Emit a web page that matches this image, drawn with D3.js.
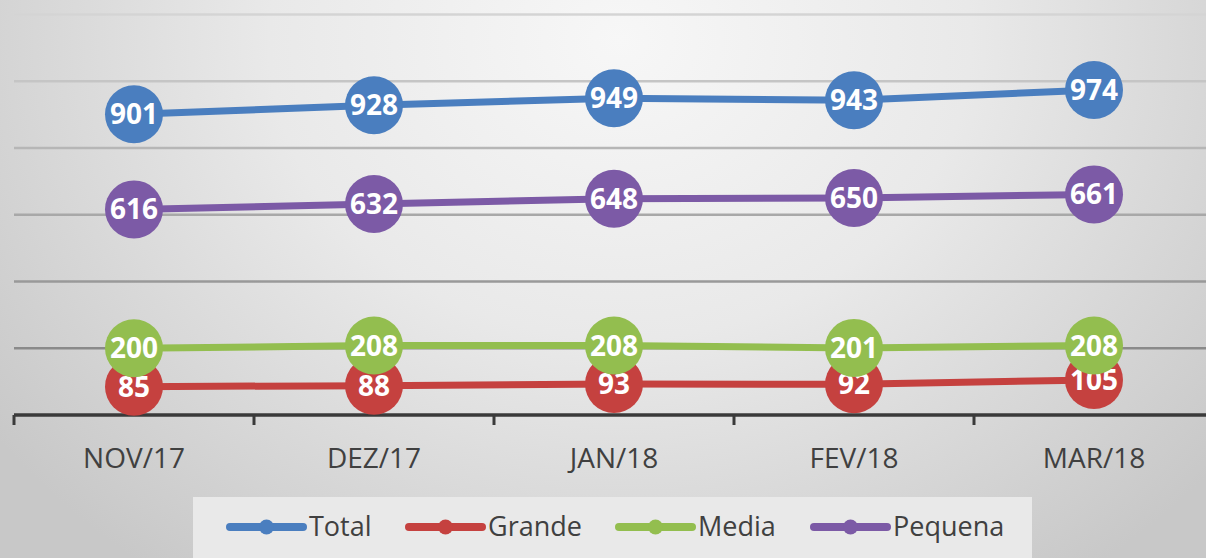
<!DOCTYPE html>
<html><head><meta charset="utf-8">
<script src="https://cdn.jsdelivr.net/npm/d3@7"></script>
<style>html,body{margin:0;padding:0;overflow:hidden;background:#e0e0e0}</style>
</head><body>
<svg id="c" width="1206" height="558"></svg>
<script>
const categories = ["NOV/17","DEZ/17","JAN/18","FEV/18","MAR/18"];
const seriesNames = ["Total","Grande","Media","Pequena"];
const total   = [901, 928, 949, 943, 974];
const grande  = [85, 88, 93, 92, 105];
const media   = [200, 208, 208, 201, 208];
const pequena = [616, 632, 648, 650, 661];
const yTicks  = [0, 200, 400, 600, 800, 1000, 1200];
const colors  = {Total:"#4a7ebf", Grande:"#c5413f", Media:"#93be4f", Pequena:"#7c5aa6"};

const series = [
  {name:"Total", values: total},
  {name:"Pequena", values: pequena},
  {name:"Grande", values: grande},
  {name:"Media", values: media}
];

const svg = d3.select("#c");
const W = 1206, H = 558;
const defs = svg.append("defs");
const rg = defs.append("radialGradient").attr("id","bg")
  .attr("gradientUnits","userSpaceOnUse").attr("cx",620).attr("cy",40).attr("r",780)
  .attr("gradientTransform","translate(620,40) scale(1,0.85) translate(-620,-40)");
rg.append("stop").attr("offset","0%").attr("stop-color","#f7f7f7");
rg.append("stop").attr("offset","45%").attr("stop-color","#e9e9e9");
rg.append("stop").attr("offset","100%").attr("stop-color","#c8c8c8");
svg.append("rect").attr("width",W).attr("height",H).attr("fill","url(#bg)");

const x = d3.scaleBand().domain(categories).range([14, 1214]).padding(0);
const y = d3.scaleLinear().domain([0, 1200]).range([415, 14.5]);

// gridlines
const gridColor = d3.scaleLinear().domain([200, 1200]).range(["#8a8a8a", "#d4d4d4"]);
svg.append("g").selectAll("line").data(yTicks.filter(d => d > 0)).join("line")
  .attr("x1", 14).attr("x2", W)
  .attr("y1", d => y(d)).attr("y2", d => y(d))
  .attr("stroke", d => gridColor(d)).attr("stroke-width", 2.5);

// x axis
const xAxis = d3.axisBottom(x).tickSize(0).tickPadding(0);
const ax = svg.append("g").attr("transform", `translate(0,${y(0)})`).call(xAxis);
ax.select(".domain").remove();
ax.selectAll("text").attr("y", 43).attr("dy","0.36em").attr("font-family","Open Sans, sans-serif")
  .attr("font-size", 28).attr("fill","#404040");
svg.append("line").attr("x1",14).attr("x2",W).attr("y1",y(0)).attr("y2",y(0))
  .attr("stroke","#3a3a3a").attr("stroke-width",3.5);
const bounds = categories.map(c => x(c));
svg.append("g").selectAll("line").data(bounds).join("line")
  .attr("x1", d => d).attr("x2", d => d).attr("y1", y(0)).attr("y2", y(0) + 10)
  .attr("stroke","#3a3a3a").attr("stroke-width",3);

const cx = c => x(c) + x.bandwidth() / 2;
const line = d3.line().x((d,i) => cx(categories[i])).y(d => y(d));

// lines
series.forEach(s => {
  svg.append("path").datum(s.values).attr("d", line)
    .attr("fill","none").attr("stroke", colors[s.name]).attr("stroke-width", 7);
});
// markers + labels
series.forEach(s => {
  const g = svg.append("g");
  g.selectAll("circle").data(s.values).join("circle")
    .attr("cx", (d,i) => cx(categories[i])).attr("cy", d => y(d)).attr("r", 29)
    .attr("fill", colors[s.name]);
  g.selectAll("text").data(s.values).join("text")
    .attr("x", (d,i) => cx(categories[i])).attr("y", d => y(d))
    .attr("dy", "0.36em").attr("text-anchor","middle")
    .attr("font-family","Open Sans, sans-serif").attr("font-weight","bold")
    .attr("font-size", 28).attr("fill","#ffffff").text(d => d);
});

// legend
const lg = svg.append("g");
lg.append("rect").attr("x",193).attr("y",497).attr("width",839).attr("height",70).attr("fill","#e9e9e9");
const legendX = [230, 409, 619, 814];
seriesNames.forEach((n, i) => {
  const lx = legendX[i], ly = 527;
  lg.append("line").attr("x1", lx).attr("x2", lx + 73).attr("y1", ly).attr("y2", ly)
    .attr("stroke", colors[n]).attr("stroke-width", 8).attr("stroke-linecap","round");
  lg.append("circle").attr("cx", lx + 36.5).attr("cy", ly).attr("r", 7.5).attr("fill", colors[n]);
  lg.append("text").attr("x", lx + 79).attr("y", ly).attr("dy","0.35em")
    .attr("font-family","Open Sans, sans-serif").attr("font-size", 27)
    .attr("fill","#404040").text(n);
});
</script>
</body></html>
